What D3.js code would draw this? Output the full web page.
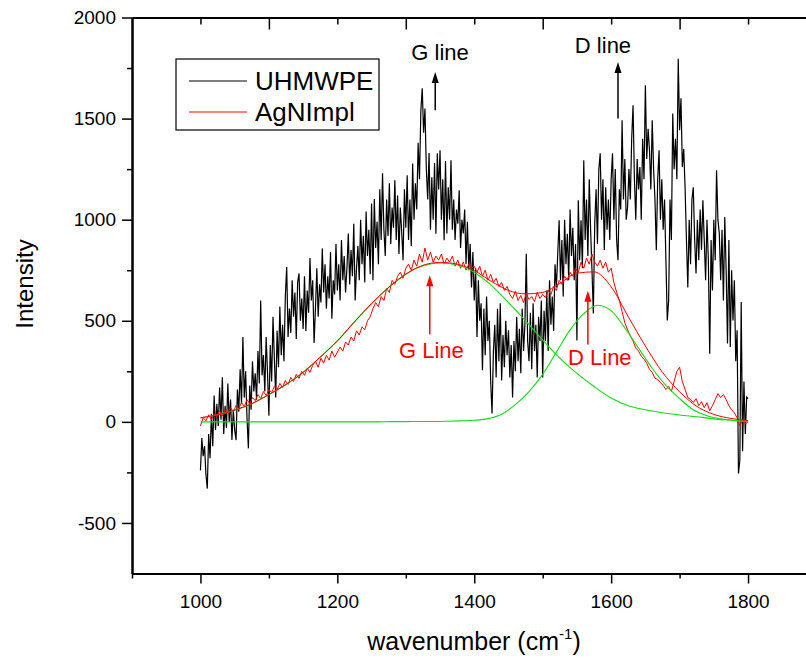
<!DOCTYPE html>
<html>
<head>
<meta charset="utf-8">
<script src="https://cdn.jsdelivr.net/npm/d3@7"></script>
<style>
  body { margin: 0; background: #fff; }
  text { font-family: Arial, "Liberation Sans", Helvetica, sans-serif; }
</style>
</head>
<body>
<svg id="chart" width="806" height="660"></svg>
<script>
// UHMWPE raw spectrum, 1000..1800 cm-1, step 2
const uhmwpeStart = 1000, uhmwpeStep = 2;
const uhmwpe = [
  -240,-80,-170,-120,-260,-330,-60,-180,40,-120,130,-40,90,-20,170,10,220,-60,80,-30,190,0,110,-90,60,
  -40,-90,160,50,260,90,420,120,250,20,-131,180,60,300,150,240,110,350,190,600,230,330,150,420,240,
  30,380,200,520,310,120,450,270,570,330,480,300,620,766,420,560,440,700,520,640,410,690,734,500,610,
  460,720,450,650,540,810,600,700,390,560,760,520,680,590,858,640,780,560,720,610,840,510,700,630,880,
  650,780,600,900,700,820,640,760,932,680,850,720,980,600,760,870,700,1000,780,920,690,1040,820,950,730,
  1080,700,1102,860,990,780,1150,900,1229,950,820,1100,920,1180,880,1060,960,1195,900,1120,830,1060,940,800,1150,
  960,1220,900,1100,870,1278,1000,1180,1050,1380,1200,1541,1650,1430,1550,1250,1100,1330,950,1210,1000,1280,930,1328,1150,
  1343,1000,1200,898,1290,932,1160,1000,1294,950,1100,900,1050,980,1145,860,1000,932,1050,780,990,750,880,665,840,
  600,760,420,700,500,586,255,560,330,620,400,500,200,42,350,480,220,560,300,586,205,430,270,500,330,
  453,220,380,121,400,250,520,300,460,240,560,350,480,832,400,300,540,260,586,350,480,220,520,400,600,
  220,550,400,650,350,700,480,620,450,780,665,832,997,700,900,620,1000,780,930,700,1050,820,960,700,880,
  403,1096,800,997,760,1294,900,1100,820,1200,950,750,536,980,1150,880,1250,1328,1000,1200,850,1160,950,1100,900,
  1200,1328,1000,1250,900,800,1150,1050,1492,1100,1300,1000,1063,1250,1100,1400,1566,1200,1000,1300,1150,1261,1000,1400,1200,
  1665,1300,1450,1343,1150,1492,1250,1100,849,1200,1343,1000,1200,950,1100,800,502,601,1100,900,1525,1250,1400,1200,1796,
  1443,1600,1261,1350,1160,900,665,1000,780,1100,1160,900,734,1000,800,1050,850,1096,900,700,1000,800,337,900,650,
  1000,800,1244,1000,932,700,950,600,1013,750,388,900,370,750,502,700,300,453,-255,-190,593,-145,200,-60,123,
  115
];

// AgNImpl spectrum, 1000..1800 cm-1, step 4
const agStart = 1000, agStep = 4;
const agnImpl = [
  -20,20,5,35,10,40,25,55,30,60,45,70,50,
  80,65,95,75,110,90,120,105,135,115,150,130,160,
  145,175,160,190,170,205,185,220,200,235,215,250,
  230,265,245,280,300,270,315,290,330,305,350,320,345,
  370,350,395,380,420,400,450,430,470,455,500,520,
  560,590,570,620,600,660,640,700,680,720,740,710,760,
  780,750,800,770,830,790,860,800,840,790,820,800,
  830,780,810,790,820,770,800,760,790,750,780,760,770,
  740,770,720,750,700,730,690,710,670,690,650,670,
  630,610,645,600,625,590,635,605,620,595,640,610,630,
  615,650,630,670,650,700,680,720,700,740,720,760,
  740,790,760,810,780,830,790,770,800,760,790,740,760,
  690,640,600,545,490,455,425,400,365,350,325,310,
  290,260,245,215,210,195,180,160,175,150,200,250,270,
  200,160,120,110,95,115,80,100,70,95,55,80,
  110,140,120,135,110,80,60,45,20,-20,10,-10,0
];

// fitted G band, 1000..1800 step 25
const gStart = 1000, gStep = 25;
const gBand = [20,35,58,90,135,185,245,320,400,495,585,665,730,772,786,776,740,675,590,500,405,315,240,175,118,80,60,45,34,25,15,8,3];

// fitted D band, 1000..1800 step 20
const dStart = 1000, dStep = 20;
const dBand = [0,0,0,0,0,0,0,0,0,0,0,0,0,0,1,1,2,2,3,5,8,16,38,85,150,235,345,455,535,577,550,465,365,265,180,115,60,30,15,7,3];

// cumulative fit, 1000..1800 step 25
const fitStart = 1000, fitStep = 25;
const cumFit = [20,35,58,90,135,185,245,320,400,495,585,665,731,774,789,780,748,695,650,633,640,685,735,742,668,520,375,245,149,77,37,17,6];

const xMajor = [1000, 1200, 1400, 1600, 1800];
const xMinor = [900, 1100, 1300, 1500, 1700];
const topLong = [1100, 1300, 1500, 1700];
const topShort = [1000, 1200, 1400, 1600, 1800];
const yMajor = [-500, 0, 500, 1000, 1500, 2000];
const yMinor = [-250, 250, 750, 1250, 1750];

const seriesNames = ["UHMWPE", "AgNImpl"];
const seriesColors = ["#000000", "#ff0000"];

// annotations in data units: [label, textX, textY, arrowX, arrowFrom, arrowTo]
const blackNotes = [["G line", 1308, 1788, 1343, 1541, 1730], ["D line", 1547, 1824, 1610, 1500, 1780]];
const redNotes = [["G Line", 1290, 318, 1335, 433, 725], ["D Line", 1537, 280, 1566, 383, 648]];

const toPts = (arr, start, step) => arr.map((v, i) => [start + i * step, v]);

const svg = d3.select("#chart");

const x = d3.scaleLinear().domain([900, 1900]).range([132, 816.5]);
const y = d3.scaleLinear().domain([-750, 2000]).range([573.5, 17.5]);

const line = d3.line().x(d => x(d[0])).y(d => y(d[1]));
const smooth = d3.line().x(d => x(d[0])).y(d => y(d[1])).curve(d3.curveMonotoneX);

// data
const plot = svg.append("g");
plot.append("path").datum(toPts(uhmwpe, uhmwpeStart, uhmwpeStep))
  .attr("d", line).attr("fill", "none").attr("stroke", "#000").attr("stroke-width", 1.2);
plot.append("path").datum(toPts(agnImpl, agStart, agStep))
  .attr("d", line).attr("fill", "none").attr("stroke", "#ff0000").attr("stroke-width", 1);
plot.append("path").datum(toPts(gBand, gStart, gStep))
  .attr("d", smooth).attr("fill", "none").attr("stroke", "#11dd11").attr("stroke-width", 1.1);
plot.append("path").datum(toPts(dBand, dStart, dStep))
  .attr("d", smooth).attr("fill", "none").attr("stroke", "#11dd11").attr("stroke-width", 1.1);
plot.append("path").datum(toPts(cumFit, fitStart, fitStep))
  .attr("d", smooth).attr("fill", "none").attr("stroke", "#ff0000").attr("stroke-width", 1);

// axes
const fs = 19;
const plain = d => String(d).replace("\u2212", "-");
const axisStyle = g => {
  g.selectAll(".domain").attr("stroke", "#000").attr("stroke-width", 2);
  g.selectAll(".tick line").attr("stroke", "#000").attr("stroke-width", 1.5);
  g.selectAll("text").attr("font-size", fs).attr("fill", "#000")
    .attr("font-family", "Arial, 'Liberation Sans', sans-serif");
};

svg.append("g").attr("transform", `translate(0,${y(-750)})`)
  .call(d3.axisBottom(x).tickValues(xMinor).tickSize(5).tickFormat("").tickSizeOuter(0))
  .call(axisStyle);
svg.append("g").attr("transform", `translate(0,${y(-750)})`)
  .call(d3.axisBottom(x).tickValues(xMajor).tickSize(10).tickPadding(11.5).tickFormat(plain).tickSizeOuter(0))
  .call(axisStyle);

svg.append("g").attr("transform", `translate(0,${y(2000)})`)
  .call(d3.axisTop(x).tickValues(topShort).tickSize(-7).tickFormat("").tickSizeOuter(0))
  .call(axisStyle);
svg.append("g").attr("transform", `translate(0,${y(2000)})`)
  .call(d3.axisTop(x).tickValues(topLong).tickSize(-12).tickFormat("").tickSizeOuter(0))
  .call(axisStyle);

svg.append("g").attr("transform", `translate(${x(900)},0)`)
  .call(d3.axisLeft(y).tickValues(yMinor).tickSize(5).tickFormat("").tickSizeOuter(0))
  .call(axisStyle);
svg.append("g").attr("transform", `translate(${x(900)},0)`)
  .call(d3.axisLeft(y).tickValues(yMajor).tickSize(10).tickPadding(6).tickFormat(plain).tickSizeOuter(0))
  .call(axisStyle);

// axis titles
const xt = svg.append("text").attr("x", 474).attr("y", 650)
  .attr("text-anchor", "middle").attr("font-size", 25).attr("fill", "#000");
xt.append("tspan").text("wavenumber (cm");
xt.append("tspan").attr("font-size", 15).attr("dy", -11).text("-1");
xt.append("tspan").attr("dy", 11).text(")");

svg.append("text").attr("transform", "translate(33,284) rotate(-90)")
  .attr("text-anchor", "middle").attr("font-size", 24).attr("fill", "#000").text("Intensity");

// legend
const leg = svg.append("g");
leg.append("rect").attr("x", 176).attr("y", 59).attr("width", 203).attr("height", 71)
  .attr("fill", "#fff").attr("stroke", "#000").attr("stroke-width", 1.2);
seriesNames.forEach((n, i) => {
  const ly = 81 + i * 31;
  leg.append("line").attr("x1", 189).attr("x2", 247).attr("y1", ly).attr("y2", ly)
    .attr("stroke", seriesColors[i]).attr("stroke-width", 1);
  leg.append("text").attr("x", 255).attr("y", ly + 9).attr("font-size", 26).attr("fill", "#000").text(n);
});

// annotations
const arrow = (g, note, color) => {
  const [label, tx, ty, ax, a0, a1] = note;
  g.append("text").attr("x", x(tx)).attr("y", y(ty)).attr("font-size", 22).attr("fill", color).text(label);
  g.append("line").attr("x1", x(ax)).attr("x2", x(ax)).attr("y1", y(a0)).attr("y2", y(a1) + 8)
    .attr("stroke", color).attr("stroke-width", 1.5);
  const px = x(ax), py = y(a1);
  g.append("path").attr("d", `M${px},${py} L${px - 3.5},${py + 11} L${px + 3.5},${py + 11} Z`).attr("fill", color);
};
const notes = svg.append("g");
blackNotes.forEach(n => arrow(notes, n, "#000"));
redNotes.forEach(n => arrow(notes, n, "#ff0000"));
</script>
</body>
</html>
